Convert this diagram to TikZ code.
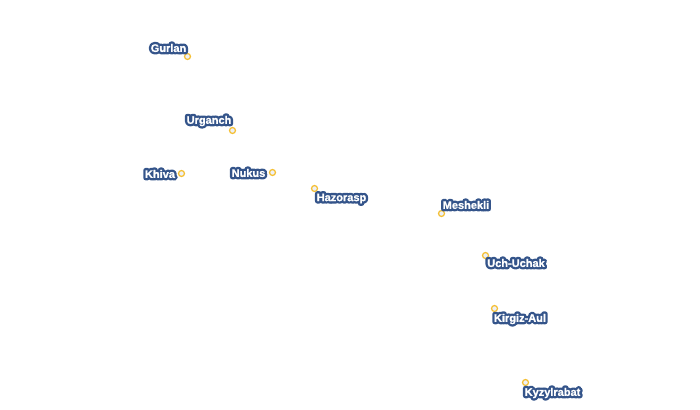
\documentclass[tikz,border=0pt]{standalone}
\usepackage{fontspec}
\setmainfont{Liberation Sans}
\newfontfamily\halofont[FakeBold=45]{Liberation Sans Bold}
\newfontfamily\facefont[FakeBold=1]{Liberation Sans Bold}
\definecolor{halo}{HTML}{34548A}
\definecolor{ringline}{HTML}{F5BE2E}
\definecolor{ringfill}{HTML}{EDF0F6}
\newcommand{\halotext}[1]
{\rlap{\halofont\textcolor{halo}{\special{pdf:code 1 j 1 J}#1}}\textcolor{white}{\facefont #1}}
\newcommand{\placecity}[6]
{\node[ring] (#1) at (#2,#3) {};
\node[citylabel] (#1label) at (#4,#5) {\halotext{#6}};
}
\tikzset{
	ring/.style={circle,draw=ringline,fill=ringfill,line width=.9pt,minimum size=4.5pt,inner sep=0pt},
	citylabel/.style={inner sep=0pt,font=\fontsize{8.25pt}{10pt}\selectfont}
}
\begin{document}
\begin{tikzpicture}[x={(.75pt,0)},y={(0,-.75pt)}]
\useasboundingbox (0,0) rectangle (700,410);

\placecity{gurlan}{187.5}{56.5}{168.5}{48}{Gurlan}
\placecity{urganch}{232.5}{130.5}{209}{121}{Urganch}
\placecity{khiva}{181.5}{173.5}{160}{174}{Khiva}
\placecity{nukus}{272.5}{172.5}{248.5}{173}{Nukus}
\placecity{hazorasp}{314.5}{188.5}{341.5}{198.5}{Hazorasp}
\placecity{meshekli}{441.5}{213.5}{466}{205}{Meshekli}
\placecity{uchuchak}{485.5}{255.5}{516}{263}{Uch-Uchak}
\placecity{kirgizaul}{494.5}{308.5}{520}{319}{Kirgiz-Aul}
\placecity{kyzylrabat}{525.5}{382.5}{552.5}{393}{Kyzylrabat}

\end{tikzpicture}
\end{document}
